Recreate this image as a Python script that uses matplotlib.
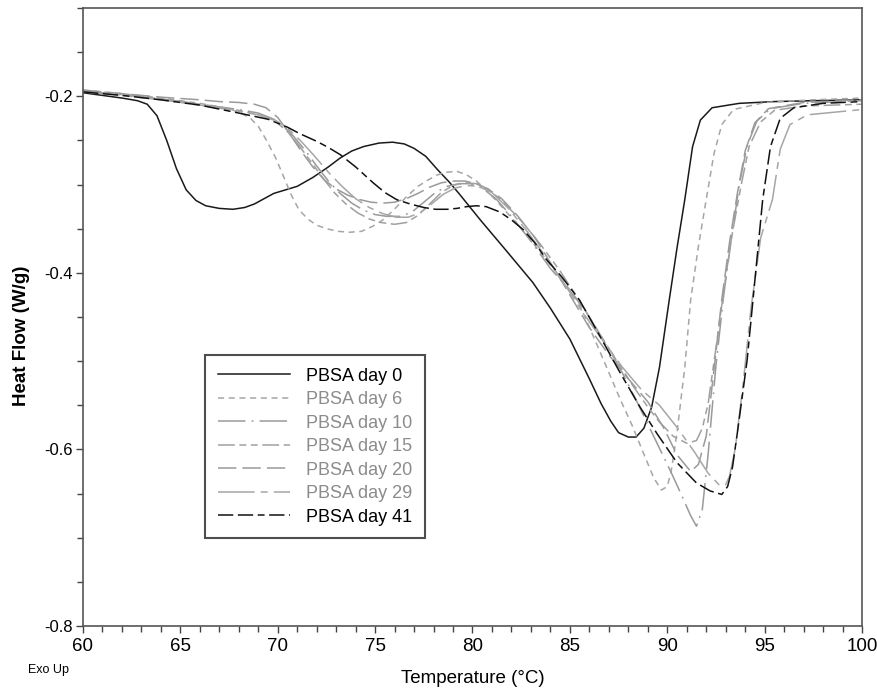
import matplotlib
matplotlib.use("Agg")
import matplotlib.pyplot as plt
from matplotlib.ticker import MultipleLocator, FuncFormatter
from matplotlib.lines import Line2D
from matplotlib import font_manager

plt.rcParams['axes.unicode_minus'] = False

# ---------------- data ----------------
labels = ["PBSA day 0", "PBSA day 6", "PBSA day 10", "PBSA day 15",
          "PBSA day 20", "PBSA day 29", "PBSA day 41"]

t_day0 = [60, 61, 62, 62.8, 63.3, 63.8, 64.3, 64.8, 65.3, 65.8, 66.3, 67, 67.7, 68.3, 68.8,
          69.3, 69.8, 70.4, 71, 71.8, 72.6, 73.2, 73.8, 74.4, 75.2, 75.9, 76.5, 77.0, 77.6,
          78.2, 78.8, 79.3, 80.4, 81.7, 83.1, 84, 85, 86, 86.6, 87.1, 87.5, 88, 88.4, 88.8,
          89.2, 89.6, 90.1, 90.5, 90.9, 91.3, 91.7, 92.3, 93.7, 95.5, 97.5, 100]
v_day0 = [-0.196, -0.199, -0.202, -0.205, -0.209, -0.222, -0.250, -0.282, -0.306, -0.318,
          -0.324, -0.327, -0.328, -0.326, -0.322, -0.316, -0.310, -0.306, -0.302, -0.292,
          -0.280, -0.270, -0.262, -0.257, -0.253, -0.252, -0.254, -0.259, -0.268, -0.283,
          -0.297, -0.310, -0.340, -0.374, -0.411, -0.440, -0.475, -0.520, -0.548, -0.568,
          -0.581, -0.586, -0.586, -0.576, -0.552, -0.507, -0.431, -0.372, -0.317, -0.257,
          -0.227, -0.213, -0.208, -0.206, -0.205, -0.204]

t_day6 = [60, 62, 64, 66, 67.5, 68.1, 68.6, 69.0, 69.4, 69.9, 70.3, 70.7, 71.1, 71.6, 72.0,
          72.5, 73.1, 73.7, 74.3, 74.9, 75.4, 75.9, 76.6, 77.2, 77.7, 78.2, 78.7, 79.2, 79.7,
          80.2, 80.7, 81.5, 82.5, 83.5, 84.5, 85.4, 86.5, 87.6, 88.2, 88.7, 89.3, 89.7, 90.0,
          90.2, 90.5, 90.9, 91.2, 91.6, 92.0, 92.4, 92.8, 93.4, 95, 97.5, 100]
v_day6 = [-0.193, -0.197, -0.202, -0.208, -0.214, -0.219, -0.225, -0.234, -0.249, -0.270,
          -0.291, -0.312, -0.329, -0.340, -0.346, -0.350, -0.353, -0.354, -0.353, -0.347,
          -0.340, -0.330, -0.314, -0.302, -0.295, -0.289, -0.286, -0.285, -0.289, -0.296,
          -0.306, -0.325, -0.350, -0.377, -0.405, -0.431, -0.487, -0.544, -0.573, -0.600,
          -0.632, -0.646, -0.642, -0.625, -0.581, -0.507, -0.431, -0.370, -0.317, -0.265,
          -0.232, -0.215, -0.207, -0.204, -0.202]

t_day10 = [60, 62, 64, 66, 68, 69, 69.7, 70.3, 70.8, 71.4, 72, 72.6, 73.2, 73.8, 74.4, 75,
           75.6, 76.3, 76.9, 77.5, 78.1, 78.7, 79.3, 79.9, 80.5, 81.2, 82, 83, 84, 84.8, 85.7,
           86.5, 87.5, 88.4, 89.3, 90.2, 90.8, 91.2, 91.5, 91.8, 92.1, 92.5, 92.9, 93.3, 93.7,
           94.1, 94.6, 95.3, 97, 100]
v_day10 = [-0.194, -0.198, -0.203, -0.209, -0.215, -0.219, -0.225, -0.234, -0.245, -0.261,
           -0.279, -0.296, -0.310, -0.321, -0.329, -0.334, -0.336, -0.336, -0.331, -0.320,
           -0.309, -0.302, -0.299, -0.299, -0.304, -0.316, -0.336, -0.364, -0.395, -0.415,
           -0.440, -0.468, -0.505, -0.544, -0.585, -0.626, -0.655, -0.675, -0.687, -0.668,
           -0.605, -0.505, -0.425, -0.360, -0.300, -0.256, -0.228, -0.214, -0.208, -0.205]

t_day15 = [60, 62, 64, 66, 68, 69, 69.8, 70.5, 71.1, 71.7, 72.3, 72.9, 73.5, 74.1, 74.7, 75.3,
           76.0, 76.6, 77.2, 77.8, 78.4, 79.0, 79.6, 80.2, 80.8, 81.5, 82.5, 83.5, 84.5, 85.5,
           86.5, 87.5, 88.3, 89.0, 89.6, 90.3, 91.0, 91.5, 91.8, 92.1, 92.5, 92.9, 93.3, 93.8,
           94.2, 94.8, 95.5, 97, 100]
v_day15 = [-0.194, -0.198, -0.203, -0.209, -0.216, -0.221, -0.227, -0.240, -0.256, -0.274,
           -0.292, -0.309, -0.322, -0.332, -0.339, -0.343, -0.345, -0.343, -0.335, -0.322,
           -0.309, -0.301, -0.298, -0.299, -0.305, -0.318, -0.341, -0.368, -0.398, -0.432,
           -0.468, -0.503, -0.530, -0.552, -0.569, -0.585, -0.593, -0.590, -0.576, -0.548,
           -0.485, -0.420, -0.360, -0.300, -0.257, -0.229, -0.216, -0.211, -0.209]

t_day20 = [60, 62, 64, 66, 67, 68, 68.8, 69.4, 70, 70.6, 71.2, 71.8, 72.4, 73, 73.6, 74.2,
           74.8, 75.4, 76, 76.6, 77.2, 77.8, 78.4, 79, 79.6, 80.2, 80.8, 81.5, 82.3, 83.2, 84.1,
           85, 86, 87, 88, 89, 89.8, 90.5, 91.2, 91.6, 92.0, 92.4, 92.8, 93.2, 93.6, 94.0,
           94.5, 95.2, 97, 100]
v_day20 = [-0.193, -0.197, -0.201, -0.204, -0.206, -0.207, -0.209, -0.213, -0.224, -0.242,
           -0.262, -0.280, -0.295, -0.305, -0.312, -0.317, -0.320, -0.321, -0.320, -0.316,
           -0.310, -0.303, -0.298, -0.296, -0.296, -0.299, -0.305, -0.316, -0.335, -0.360,
           -0.392, -0.425, -0.462, -0.493, -0.520, -0.546, -0.575, -0.606, -0.625, -0.617,
           -0.585, -0.510, -0.430, -0.365, -0.310, -0.262, -0.230, -0.214, -0.207, -0.204]

t_day29 = [60, 62, 64, 66, 68, 69, 69.8, 70.5, 71.2, 71.9, 72.6, 73.3, 74, 74.7, 75.4, 76.1,
           76.7, 77.3, 77.9, 78.5, 79.1, 79.7, 80.3, 81, 81.8, 82.7, 83.7, 84.7, 85.7, 86.7,
           87.7, 88.7, 89.6, 90.5, 91.4, 92.1, 92.7, 93.0, 93.2, 93.5, 93.9, 94.3, 94.8, 95.4,
           95.8, 96.3, 97.2, 100]
v_day29 = [-0.195, -0.199, -0.204, -0.210, -0.217, -0.221, -0.226, -0.236, -0.251, -0.268,
           -0.286, -0.302, -0.316, -0.326, -0.333, -0.337, -0.337, -0.332, -0.322, -0.311,
           -0.304, -0.301, -0.302, -0.309, -0.326, -0.350, -0.380, -0.412, -0.446, -0.477,
           -0.507, -0.533, -0.550, -0.575, -0.603, -0.627, -0.641, -0.640, -0.630, -0.598,
           -0.525, -0.440, -0.360, -0.317, -0.260, -0.232, -0.221, -0.215]

t_day41 = [60, 62, 64, 66, 68, 69.5, 70.5, 71.1, 72, 72.6, 73.2, 74, 74.9, 75.5, 76.1, 76.8,
           77.5, 78.1, 78.7, 79.2, 79.7, 80.2, 80.7, 81.4, 82, 82.6, 83.2, 83.8, 84.6, 85.5,
           86.5, 87.5, 88.6, 89.5, 90.5, 91.5, 92.2, 92.8, 93.1, 93.35, 93.6, 94.1, 94.4, 94.9,
           95.3, 95.8, 96.5, 98, 100]
v_day41 = [-0.195, -0.199, -0.204, -0.210, -0.219, -0.226, -0.235, -0.242, -0.251, -0.258,
           -0.266, -0.280, -0.298, -0.309, -0.317, -0.322, -0.326, -0.328, -0.328, -0.327,
           -0.325, -0.324, -0.325, -0.331, -0.340, -0.351, -0.366, -0.385, -0.405, -0.431,
           -0.470, -0.510, -0.552, -0.583, -0.615, -0.638, -0.647, -0.651, -0.642, -0.620,
           -0.581, -0.499, -0.431, -0.317, -0.257, -0.225, -0.213, -0.208, -0.206]

temps = [t_day0, t_day6, t_day10, t_day15, t_day20, t_day29, t_day41]
flows = [v_day0, v_day6, v_day10, v_day15, v_day20, v_day29, v_day41]

# ---------------- styles ----------------
colors = ["#1a1a1a", "#a6a6a6", "#9a9a9a", "#a0a0a0", "#9a9a9a", "#a6a6a6", "#111111"]
text_colors = ["#000000", "#8c8c8c", "#8c8c8c", "#8c8c8c", "#8c8c8c", "#8c8c8c", "#000000"]
styles = ["-",
          (0, (4, 3)),
          (0, (18, 4, 1.2, 4)),
          (0, (11, 3, 4.5, 3, 4.5, 3)),
          (0, (12, 4)),
          (0, (24, 4, 4.5, 4)),
          (0, (10, 3, 10, 3, 4.5, 3))]

installed = {f.name for f in font_manager.fontManager.ttflist}
narrow = ["Liberation Sans Narrow", "Liberation Sans", "DejaVu Sans"]
narrow = [f for f in narrow if f in installed] or ["DejaVu Sans"]
arial = ["Liberation Sans", "DejaVu Sans"]

fig = plt.figure(figsize=(8.78, 6.95), dpi=100)
ax = fig.add_axes([0.0945, 0.0993, 0.8873, 0.8892])

for t, v, c, ls in zip(temps, flows, colors, styles):
    ax.plot(t, v, color=c, linestyle=ls, linewidth=1.1)

ax.set_xlim(60, 100)
ax.set_ylim(-0.8, -0.1)
ax.xaxis.set_major_locator(MultipleLocator(5))
ax.xaxis.set_minor_locator(MultipleLocator(1))
ax.yaxis.set_major_locator(MultipleLocator(0.2))
ax.yaxis.set_minor_locator(MultipleLocator(0.05))
ax.yaxis.set_major_formatter(FuncFormatter(lambda y, p: ("%.1f" % y).replace("\u2212", "-")))

ax.tick_params(axis="both", which="major", direction="out", length=5, width=1, color="#444444")
ax.tick_params(axis="both", which="minor", direction="out", length=4, width=1, color="#444444")
for lab in ax.get_xticklabels():
    lab.set_fontfamily(narrow)
    lab.set_fontsize(13.5)
for lab in ax.get_yticklabels():
    lab.set_fontfamily(arial)
    lab.set_fontsize(12)
ax.tick_params(axis="x", pad=4)
ax.tick_params(axis="y", pad=2)

for sp in ax.spines.values():
    sp.set_color("#555555")
    sp.set_linewidth(1.2)

ax.set_ylabel("Heat Flow (W/g)", fontfamily=arial, fontsize=13.5, fontweight="bold")
ax.yaxis.set_label_coords(-0.068, 0.47)
ax.set_xlabel("Temperature (\u00b0C)", fontfamily=narrow, fontsize=13.5)
ax.xaxis.set_label_coords(0.5, -0.072)
fig.text(28 / 878, 1 - 670 / 695, "Exo Up", fontfamily=narrow, fontsize=9, va="center", ha="left")

handles = [Line2D([0], [0], color=c, linestyle=ls, linewidth=1.1)
           for c, ls in zip(colors, styles)]
leg = ax.legend(handles, labels, loc="upper left", bbox_to_anchor=(0.1566, 0.4385),
                frameon=True, fancybox=False, edgecolor="#222222",
                prop={"family": arial, "size": 13}, handlelength=4.0,
                handletextpad=0.9, labelspacing=0.36, borderpad=0.7, borderaxespad=0)
leg.get_frame().set_linewidth(1.5)
for txt, tc in zip(leg.get_texts(), text_colors):
    txt.set_color(tc)

fig.savefig("out.png", dpi=100)
